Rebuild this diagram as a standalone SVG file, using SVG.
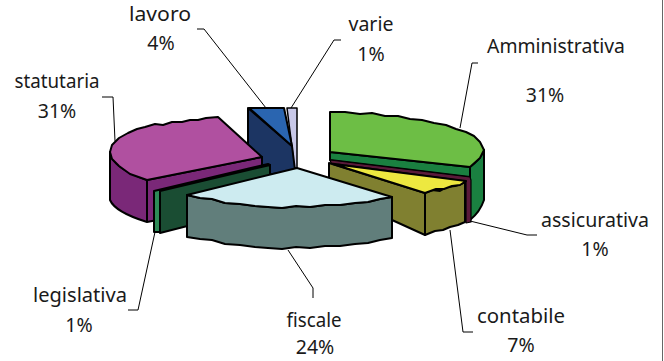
<svg xmlns="http://www.w3.org/2000/svg" width="664" height="361" viewBox="0 0 664 361">
<style>
.o{stroke:#000;stroke-width:2;stroke-linejoin:round}
.l{fill:none;stroke:#000;stroke-width:1}
text{font-family:"Noto Sans","Open Sans","DejaVu Sans",sans-serif;font-size:19.5px;fill:#1a1a1a;text-anchor:middle}
</style>
<rect width="664" height="361" fill="#fff"/>
<line x1="662.5" y1="0" x2="662.5" y2="361" stroke="#666" stroke-width="1"/>
<g id="varie">
<polygon class="o" style="stroke-width:1.5" fill="#C8C8E8" points="287,108 297,108 297,168 294,168 292,147"/>
</g>
<g id="lavoro">
<polygon class="o" fill="#1C3563" points="248,108 292,146 295,170 262,176 248,176"/>
<polygon class="o" fill="#2A65B0" points="249,108 284,108 292,146"/>
</g>
<g id="statutaria">
<path class="o" fill="#7A2878" d="M110,152 Q112,168 147,180 L262,157 L262,200 L147,222 Q115,212 110,200 Z"/>
<line x1="147" y1="180" x2="147" y2="222" stroke="#000" stroke-width="2"/>
<polygon class="o" fill="#B050A0" points="110,152 112,145 119,138 128,133 137,129 145,127 155,124 163,125 172,122 182,122 190,120 198,120 206,118 218,117 262,157 147,180 130,174 119,166 112,159"/>
</g>
<g id="legislativa">
<polygon class="o" fill="#2E8B57" points="154,191 268,164 270,165 160,191 160,232 154,232"/>
<polygon class="o" fill="#1A4D33" points="160,191 270,165 270,205 160,233"/>
</g>
<g id="amministrativa">
<path class="o" fill="#1A8040" d="M470,167 Q480,160 484,150 L484,200 Q480,212 470,220 Z"/>
<polygon class="o" fill="#1A8040" points="330,152 470,167 470,177 330,160"/>
<polygon class="o" fill="#6DBE45" points="330,112 345,112 360,114 372,113 385,116 398,116 410,119 422,120 434,123 446,125 456,129 466,132 474,136 480,142 484,150 480,158 470,167 330,152"/>
</g>
<g id="assicurativa">
<polygon class="o" style="stroke-width:1.2" fill="#5A1A3A" points="330,160 470,177 471,180 471,222 466,223 466,181 331,163"/>
</g>
<g id="contabile">
<polygon class="o" fill="#808030" points="329,163 425,193 425,235 392,220 340,210 329,205"/>
<polygon class="o" fill="#808030" points="425,193 432,190 440,191 447,187 455,186 461,184 465,182 465,222 458,225 450,227 443,230 435,231 425,235"/>
<polygon class="o" fill="#EDE840" points="333,164 466,181 460,185 452,186 444,189 436,189 425,193"/>
</g>
<g id="fiscale">
<polygon class="o" fill="#617E7B" points="187,195 200,198 212,199 225,203 240,204 255,206 268,207 282,208 296,206 310,207 325,205 340,205 355,203 368,202 380,199 392,197 392,238 380,240 368,243 355,244 340,246 325,246 310,248 296,247 282,249 268,248 255,247 240,245 225,244 212,240 200,239 187,237"/>
<polygon class="o" fill="#CDEBF0" points="297,168 392,197 380,199 368,202 355,203 340,205 325,205 310,207 296,206 282,208 268,207 255,206 240,204 225,203 212,199 200,198 187,195"/>
</g>
<g id="connectors">
<polyline class="l" points="197,29 204,29 266,108"/>
<polyline class="l" points="341,40 334,40 291,108"/>
<polyline class="l" points="102,97 113,97 115,141"/>
<polyline class="l" points="478,63 472,63 460,128"/>
<polyline class="l" points="470,221 527,235 537,235"/>
<polyline class="l" points="450,230 463,332 473,332"/>
<polyline class="l" points="288,250 313,288 313,298"/>
<polyline class="l" points="155,232 138,310 128,310"/>
</g>
<g id="labels">
<text x="160" y="21" textLength="62" lengthAdjust="spacingAndGlyphs">lavoro</text>
<text x="161" y="50">4%</text>
<text x="371" y="31" textLength="45" lengthAdjust="spacingAndGlyphs">varie</text>
<text x="371" y="61">1%</text>
<text x="57" y="88" textLength="85" lengthAdjust="spacingAndGlyphs">statutaria</text>
<text x="57" y="118">31%</text>
<text x="556" y="53" textLength="138" lengthAdjust="spacingAndGlyphs">Amministrativa</text>
<text x="545" y="102">31%</text>
<text x="595" y="227" textLength="108" lengthAdjust="spacingAndGlyphs">assicurativa</text>
<text x="595" y="256">1%</text>
<text x="521" y="323" textLength="88" lengthAdjust="spacingAndGlyphs">contabile</text>
<text x="521" y="352">7%</text>
<text x="80" y="302" textLength="94" lengthAdjust="spacingAndGlyphs">legislativa</text>
<text x="79" y="332">1%</text>
<text x="314" y="327" textLength="55" lengthAdjust="spacingAndGlyphs">fiscale</text>
<text x="315" y="354">24%</text>
</g>
</svg>
